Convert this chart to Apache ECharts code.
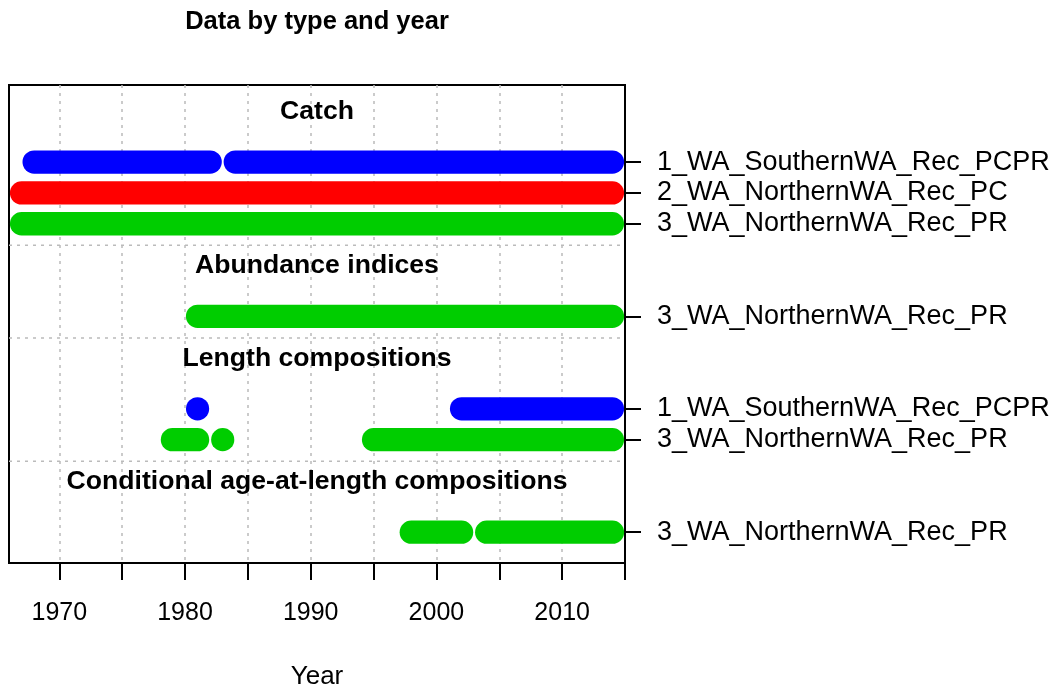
<!DOCTYPE html>
<html>
<head>
<meta charset="utf-8">
<title>Data by type and year</title>
<script src="https://cdn.jsdelivr.net/npm/echarts@6/dist/echarts.min.js"></script>
<style>
  html, body { margin: 0; padding: 0; background: #fff; }
  #chart { width: 1057px; height: 692px; }
</style>
</head>
<body>
<div id="chart"></div>
<script>
  // data types, top to bottom
  const types = ['Catch', 'Abundance indices', 'Length compositions', 'Conditional age-at-length compositions']
  const fleets = ['1_WA_SouthernWA_Rec_PCPR', '2_WA_NorthernWA_Rec_PC', '3_WA_NorthernWA_Rec_PR']
  const fleetColors = ['#0000ff', '#ff0000', '#00cd00']

  // years with data, as [first, last] runs
  const catchFleet1 = [[1968, 1982], [1984, 2014]]
  const catchFleet2 = [[1967, 2014]]
  const catchFleet3 = [[1967, 2014]]
  const indexFleet3 = [[1981, 2014]]
  const lenFleet1 = [[1981, 1981], [2002, 2014]]
  const lenFleet3 = [[1979, 1981], [1983, 1983], [1995, 2014]]
  const ageFleet3 = [[1998, 2002], [2004, 2014]]

  const xTicks = [1970, 1975, 1980, 1985, 1990, 1995, 2000, 2005, 2010, 2015]
  const xLabels = [1970, 1980, 1990, 2000, 2010]

  // fleet index + runs for each type
  const typeRows = [
    [[0, catchFleet1], [1, catchFleet2], [2, catchFleet3]],
    [[2, indexFleet3]],
    [[0, lenFleet1], [2, lenFleet3]],
    [[2, ageFleet3]]
  ]

  // stack the types from the bottom up
  const spans = []
  const headers = []
  const seps = []
  const rowValues = []
  const rowNames = {}
  let base = 1
  for (let t = types.length - 1; t >= 0; t--) {
    const rows = typeRows[t]
    const top = base + rows.length - 1
    rows.forEach((r, i) => {
      const y = top - i
      rowValues.push(y)
      rowNames[y] = fleets[r[0]]
      r[1].forEach(s => spans.push([s[0], s[1], y, r[0]]))
    })
    headers.push([1990.5, top + 1.7, t])
    if (t > 0) seps.push([1966, top + 2.3])
    base = top + 3
  }

  const font = 'Liberation Sans, Arial, Helvetica, sans-serif'
  const chart = echarts.init(document.getElementById('chart'))

  const option = {
    animation: false,
    backgroundColor: '#fff',
    title: {
      text: 'Data by type and year',
      left: 317,
      top: 9,
      padding: 0,
      textAlign: 'center',
      textStyle: { fontFamily: font, fontSize: 25.5, fontWeight: 'bold', color: '#000' }
    },
    grid: {
      left: 9,
      right: 432,
      top: 85,
      bottom: 129,
      containLabel: false,
      outerBoundsMode: 'none',
      show: true,
      borderColor: '#000',
      borderWidth: 2
    },
    xAxis: {
      type: 'value',
      min: 1966,
      max: 2015,
      name: 'Year',
      nameLocation: 'middle',
      nameGap: 101,
      nameTextStyle: { fontFamily: font, fontSize: 26, color: '#000' },
      axisLine: { show: true, onZero: false, lineStyle: { color: '#000', width: 2 } },
      axisTick: { show: true, length: 17, customValues: xTicks, lineStyle: { color: '#000', width: 2 } },
      axisLabel: {
        customValues: xLabels,
        margin: 38,
        fontFamily: font,
        fontSize: 25,
        color: '#000',
        formatter: v => String(v)
      },
      splitLine: { show: true, lineStyle: { color: '#bbbbbb', width: 1.5, type: [3, 5] } }
    },
    yAxis: {
      type: 'value',
      position: 'right',
      min: 0,
      max: 15.5,
      // solid right edge over the last grid line
      axisLine: { show: true, lineStyle: { color: '#000', width: 2 } },
      axisTick: { show: true, length: 16, customValues: rowValues, lineStyle: { color: '#000', width: 2 } },
      axisLabel: {
        customValues: rowValues,
        margin: 32,
        fontFamily: font,
        fontSize: 27,
        color: '#000',
        formatter: v => rowNames[v] || ''
      },
      splitLine: { show: false }
    },
    series: [
      {
        // dotted lines between the data types
        type: 'custom',
        data: seps,
        silent: true,
        renderItem: (params, api) => {
          const p1 = api.coord([1966, api.value(1)])
          const p2 = api.coord([2015, api.value(1)])
          return {
            type: 'line',
            shape: { x1: p1[0], y1: p1[1], x2: p2[0], y2: p2[1] },
            style: { stroke: '#bbbbbb', lineWidth: 1.5, lineDash: [3, 5] }
          }
        }
      },
      {
        // thick round-capped runs of years
        type: 'custom',
        data: spans,
        encode: { x: [0, 1], y: 2 },
        renderItem: (params, api) => {
          const y = api.value(2)
          const p1 = api.coord([api.value(0), y])
          const p2 = api.coord([api.value(1), y])
          const color = fleetColors[api.value(3)]
          if (api.value(0) === api.value(1)) {
            return {
              type: 'circle',
              shape: { cx: p1[0], cy: p1[1], r: 11.6 },
              style: { fill: color }
            }
          }
          return {
            type: 'line',
            shape: { x1: p1[0], y1: p1[1], x2: p2[0], y2: p2[1] },
            style: { stroke: color, lineWidth: 23.3, lineCap: 'round' }
          }
        }
      },
      {
        // type headings
        type: 'custom',
        data: headers,
        silent: true,
        renderItem: (params, api) => {
          const p = api.coord([api.value(0), api.value(1)])
          return {
            type: 'text',
            x: p[0],
            y: p[1] + 2,
            style: {
              text: types[api.value(2)],
              fontFamily: font,
              fontSize: 26.6,
              fontWeight: 'bold',
              fill: '#000',
              align: 'center',
              verticalAlign: 'middle'
            }
          }
        }
      }
    ]
  }

  chart.setOption(option)
</script>
</body>
</html>
